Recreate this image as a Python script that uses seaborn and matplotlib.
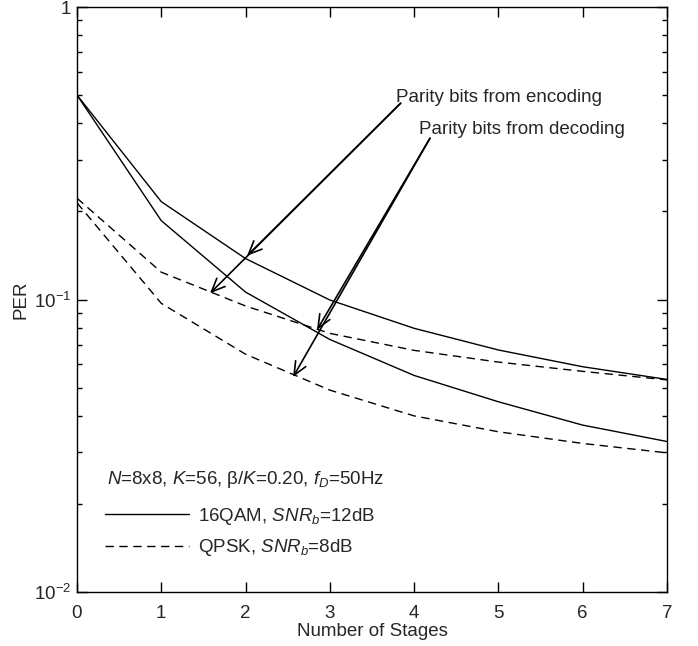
import numpy as np
import pandas as pd
import seaborn as sns
import matplotlib
matplotlib.use("Agg")
import matplotlib.pyplot as plt
from matplotlib.lines import Line2D
from matplotlib.ticker import LogLocator, FixedLocator, NullFormatter

# Packet error rate versus number of stages
stages = [0, 1, 2, 3, 4, 5, 6, 7]
per_16qam_enc = [0.50, 0.216, 0.138, 0.0996, 0.0797, 0.0672, 0.0589, 0.0533]
per_16qam_dec = [0.50, 0.186, 0.106, 0.073, 0.055, 0.0447, 0.0372, 0.0327]
per_qpsk_enc = [0.222, 0.124, 0.095, 0.0766, 0.067, 0.0611, 0.0568, 0.0531]
per_qpsk_dec = [0.214, 0.097, 0.065, 0.049, 0.040, 0.0353, 0.0322, 0.0299]

y_ticks = [1e-2, 1e-1, 1]
y_tick_labels = [r"10$^{-2}$", r"10$^{-1}$", "1"]

FS = 13.5

sns.set_theme(style="white")
plt.rcParams["font.family"] = ["Liberation Sans", "DejaVu Sans"]
plt.rcParams["mathtext.fontset"] = "custom"
plt.rcParams["mathtext.rm"] = "Liberation Sans"
plt.rcParams["mathtext.it"] = "Liberation Sans:italic"
plt.rcParams["mathtext.bf"] = "Liberation Sans:bold"

fig = plt.figure(figsize=(6.98, 6.46), dpi=100)
ax = fig.add_axes([77 / 698, 54 / 646, 590 / 698, 585 / 646])

df = pd.DataFrame({
    "stage": stages * 4,
    "per": per_16qam_enc + per_16qam_dec + per_qpsk_enc + per_qpsk_dec,
    "curve": (["16qam_enc"] * 8 + ["16qam_dec"] * 8
              + ["qpsk_enc"] * 8 + ["qpsk_dec"] * 8),
})

dash_pattern = {
    "16qam_enc": None,
    "16qam_dec": None,
    "qpsk_enc": (6, 4),
    "qpsk_dec": (6, 4),
}
for name, sub in df.groupby("curve", sort=False):
    sns.lineplot(data=sub, x="stage", y="per", ax=ax, legend=False,
                 color="black", linewidth=1.0)
    if dash_pattern[name] is not None:
        ax.get_lines()[-1].set_dashes(dash_pattern[name])

ax.set_yscale("log")
ax.set_xlim(0, 7)
ax.set_ylim(1e-2, 1)
ax.set_xticks(stages)
ax.set_xticklabels([str(s) for s in stages])
ax.yaxis.set_major_locator(FixedLocator(y_ticks))
ax.set_yticklabels(y_tick_labels)
ax.yaxis.set_minor_locator(LogLocator(base=10, subs=np.arange(2, 10)))
ax.yaxis.set_minor_formatter(NullFormatter())

ax.set_xlabel("Number of Stages", fontsize=FS, labelpad=1)
ax.set_ylabel("PER", fontsize=FS, labelpad=3)

ax.tick_params(which="both", direction="in", top=True, right=True,
               left=True, bottom=True, labelsize=FS, color="black",
               width=1.0)
ax.tick_params(which="major", length=7)
ax.tick_params(which="minor", length=3.6)
ax.tick_params(axis="x", which="major", pad=9)
ax.tick_params(axis="y", which="major", pad=4)
for sp in ax.spines.values():
    sp.set_color("black")
    sp.set_linewidth(1.0)

# Arrow annotations pointing at the parity-bit curves
arrow_kw = dict(arrowstyle="->,head_length=0.8,head_width=0.35",
                color="black", lw=1.2, shrinkA=0, shrinkB=0)
ax.text(3.78, 0.492, "Parity bits from encoding", fontsize=FS,
        ha="left", va="center")
enc_start = (3.84, 0.469)
ax.annotate("", xy=(2.017, 0.141), xytext=enc_start, arrowprops=arrow_kw)
ax.annotate("", xy=(1.578, 0.105), xytext=enc_start, arrowprops=arrow_kw)

ax.text(4.06, 0.380, "Parity bits from decoding", fontsize=FS,
        ha="left", va="center")
dec_start = (4.188, 0.356)
ax.annotate("", xy=(2.847, 0.0787), xytext=dec_start, arrowprops=arrow_kw)
ax.annotate("", xy=(2.563, 0.0543), xytext=dec_start, arrowprops=arrow_kw)

# Legend block
ax.text(30 / 590, (592 - 480) / 585,
        r"$N$=8x8, $K$=56, β/$K$=0.20, $f_D$=50Hz",
        transform=ax.transAxes, fontsize=FS, ha="left", va="center")
handles = [
    Line2D([], [], color="black", lw=1.0, linestyle="-"),
    Line2D([], [], color="black", lw=1.0, dashes=(6, 4)),
]
labels = [r"16QAM, $SNR_b$=12dB", r"QPSK, $SNR_b$=8dB"]
ax.legend(handles, labels, loc="upper left",
          bbox_to_anchor=(28 / 590, (592 - 506) / 585),
          frameon=False, fontsize=FS, handlelength=4.5,
          handletextpad=0.45, labelspacing=0.55, borderpad=0,
          borderaxespad=0)

fig.savefig("out.png", dpi=100, facecolor="white")
